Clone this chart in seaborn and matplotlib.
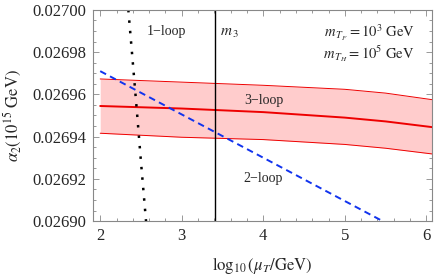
import matplotlib

matplotlib.use("Agg")

import matplotlib.pyplot as plt
import numpy as np
import pandas as pd
import seaborn as sns
from matplotlib.ticker import AutoMinorLocator, FormatStrFormatter, MultipleLocator

# valeurs
x_band = [2.0, 3.0, 4.0, 5.0, 5.5, 6.07]
loop3_mid = [0.0269545, 0.0269533, 0.0269516, 0.0269490, 0.0269472, 0.0269445]
loop3_up = [0.0269673, 0.0269658, 0.0269643, 0.0269624, 0.0269606, 0.0269575]
loop3_lo = [0.0269416, 0.0269397, 0.0269386, 0.0269363, 0.0269345, 0.0269318]

x_loop2 = [2.0, 3.0, 4.0, 5.0, 5.6]
loop2 = [0.0269710, 0.0269505, 0.0269300, 0.0269095, 0.0268972]

x_loop1 = [2.345, 2.40, 2.45, 2.50, 2.562]
loop1 = [0.027000, 0.026975, 0.026952, 0.026928, 0.026900]

m3 = 3.41

sns.set_theme(style="ticks")
plt.rcParams["font.family"] = ["Liberation Serif", "DejaVu Serif"]
plt.rcParams["mathtext.fontset"] = "stix"

fig = plt.figure(figsize=(4.36, 2.75), dpi=100)
ax = fig.add_axes([0.213, 0.196, 0.778, 0.768])

ax.fill_between(x_band, loop3_lo, loop3_up, color="#ffcccc", lw=0)
band = pd.DataFrame({"x": x_band, "mid": loop3_mid, "up": loop3_up, "lo": loop3_lo})
sns.lineplot(data=band, x="x", y="mid", ax=ax, color="#ee0000", lw=1.4)
sns.lineplot(data=band, x="x", y="up", ax=ax, color="#ee0000", lw=0.7)
sns.lineplot(data=band, x="x", y="lo", ax=ax, color="#ee0000", lw=0.7)

sns.lineplot(x=x_loop2, y=loop2, ax=ax, color="#1133ee", lw=1.4,
             linestyle=(0, (3.4, 2.3)))
sns.lineplot(x=x_loop1, y=loop1, ax=ax, color="black", lw=1.8, sort=False,
             orient="y", linestyle=(0, (1, 3.2)), dash_capstyle="butt")
ax.axvline(m3, color="black", lw=1.0)

ax.set_xlim(1.91, 6.07)
ax.set_ylim(0.0269, 0.0270)
ax.xaxis.set_major_locator(MultipleLocator(1))
ax.xaxis.set_minor_locator(AutoMinorLocator(5))
ax.yaxis.set_major_locator(MultipleLocator(0.00002))
ax.yaxis.set_minor_locator(AutoMinorLocator(4))
ax.yaxis.set_major_formatter(FormatStrFormatter("%.5f"))

ax.tick_params(which="both", direction="in", top=True, right=True,
               color="#888888", labelsize=12, pad=5)
ax.tick_params(which="major", length=4.5, width=0.6)
ax.tick_params(which="minor", length=2.5, width=0.6)
for s in ax.spines.values():
    s.set_color("#888888")
    s.set_linewidth(0.8)

ax.set_xlabel(r"$\log_{10}(\mu_T/\mathrm{GeV})$", fontsize=12, labelpad=8)
ax.set_ylabel(r"$\alpha_2(10^{15}\ \mathrm{GeV})$", fontsize=12, labelpad=6)

ax.text(2.81, 0.026990, "1\u2212loop", fontsize=10, ha="center", va="center")
ax.text(3.47, 0.026989, r"$m_{\,3}$", fontsize=11, ha="left", va="center")
ax.text(4.01, 0.026957, "3\u2212loop", fontsize=10, ha="center", va="center")
ax.text(4.00, 0.026920, "2\u2212loop", fontsize=10, ha="center", va="center")
ax.text(5.86, 0.026989, r"$m_{\,T_F}=10^3\ \mathrm{GeV}$", fontsize=10.5,
        ha="right", va="center")
ax.text(5.86, 0.0269795, r"$m_{\,T_H}=10^5\ \mathrm{GeV}$", fontsize=10.5,
        ha="right", va="center")

fig.savefig("out.png", dpi=100)
